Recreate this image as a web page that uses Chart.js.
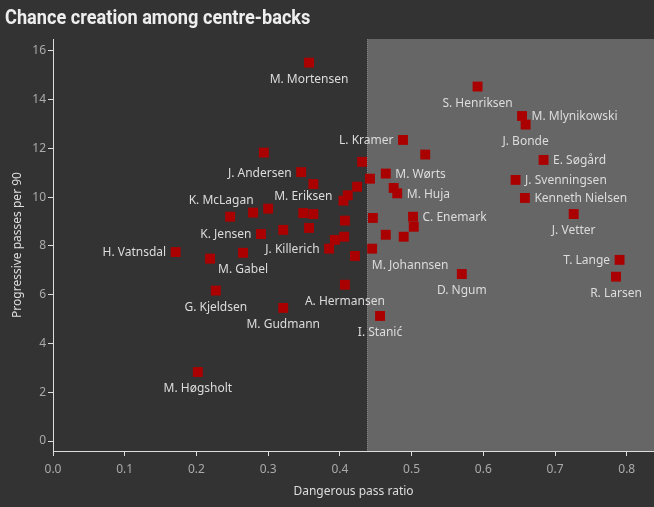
<!DOCTYPE html>
<html>
<head>
<meta charset="utf-8">
<script src="https://cdn.jsdelivr.net/npm/chart.js@4/dist/chart.umd.min.js"></script>
<style>
  html, body { margin: 0; padding: 0; background: #333333; }
  #wrap { position: relative; width: 654px; height: 507px; }
  #title {
    position: absolute; left: 5px; top: 7px;
    font: bold 21px Roboto, sans-serif; line-height: 21px;
    color: #eeeeee; white-space: nowrap;
    transform: scaleX(0.865); transform-origin: left top;
  }
  canvas { position: absolute; left: 0; top: 0; }
</style>
</head>
<body>
<div id="wrap">
  <canvas id="myChart" width="654" height="507"></canvas>
  <div id="title">Chance creation among centre-backs</div>
</div>
<script>
// players ('' = no label shown)
const names = ['M. Mortensen', '', 'J. Andersen', '', 'L. Kramer', '', 'M. Wørts', '', '', '', '',
  'K. McLagan', '', '', 'M. Eriksen', '', '', '', 'K. Jensen', '', '', 'H. Vatnsdal', '', 'M. Gabel',
  'J. Killerich', '', '', '', 'M. Johannsen', 'G. Kjeldsen', 'A. Hermansen', 'M. Gudmann', 'I. Stanić',
  'M. Høgsholt', '', 'M. Huja', 'C. Enemark', '', '', '', 'D. Ngum', 'J. Vetter', 'T. Lange', 'R. Larsen',
  'Kenneth Nielsen', 'S. Henriksen', 'M. Mlynikowski', 'J. Bonde', '', 'E. Søgård', 'J. Svenningsen'];
const dangerousRatio = [0.357, 0.294, 0.346, 0.431, 0.488, 0.363, 0.464, 0.442, 0.424, 0.411, 0.405,
  0.247, 0.279, 0.300, 0.349, 0.363, 0.407, 0.446, 0.290, 0.321, 0.357, 0.171, 0.219, 0.265,
  0.385, 0.393, 0.406, 0.421, 0.445, 0.227, 0.407, 0.321, 0.456,
  0.202, 0.475, 0.480, 0.502, 0.503, 0.464, 0.489, 0.570, 0.726, 0.790, 0.785,
  0.658, 0.592, 0.654, 0.659, 0.519, 0.684, 0.645];
const progPasses = [15.52, 11.83, 11.03, 11.45, 12.35, 10.54, 10.97, 10.76, 10.43, 10.08, 9.86,
  9.20, 9.37, 9.53, 9.35, 9.31, 9.04, 9.15, 8.49, 8.66, 8.74, 7.75, 7.48, 7.72,
  7.89, 8.25, 8.38, 7.59, 7.89, 6.17, 6.41, 5.46, 5.13,
  2.83, 10.38, 10.16, 9.20, 8.79, 8.46, 8.38, 6.85, 9.31, 7.43, 6.74,
  9.97, 14.54, 13.33, 12.98, 11.75, 11.53, 10.71];
// shaded zone starts here (x value)
const shadeFrom = 0.438;
const xTicks = [0, 0.1, 0.2, 0.3, 0.4, 0.5, 0.6, 0.7, 0.8];
const yTicks = [0, 2, 4, 6, 8, 10, 12, 14, 16];

// where each label goes: b = below, t = above, l = left, r = right
const labelPos = ['b', '', 'l', '', 'l', '', 'r', '', '', '', '',
  't', '', '', 't', '', '', '', 'l', '', '', 'l', '', 'b',
  'l', '', '', '', 'b', 'b', 'b', 'b', 'b',
  'b', '', 'r', 'r', '', '', '', 'b', 'b', 'l', 'b',
  'r', 'b', 'r', 'b', '', 'r', 'r'];
const labelNudge = { 'M. Johannsen': 38, 'K. McLagan': -9 };

const points = dangerousRatio.map((v, i) => ({ x: v, y: progPasses[i] }));

// grey box on the right side
const shadePlugin = {
  id: 'shade',
  beforeDraw(chart) {
    const { ctx, chartArea } = chart;
    const x0 = chart.scales.x.getPixelForValue(shadeFrom);
    ctx.save();
    ctx.fillStyle = '#666666';
    ctx.fillRect(x0, chartArea.top, chartArea.right - x0, chartArea.bottom - chartArea.top);
    ctx.strokeStyle = '#808080';
    ctx.setLineDash([1, 1]);
    ctx.beginPath();
    ctx.moveTo(Math.round(x0) + 0.5, chartArea.top);
    ctx.lineTo(Math.round(x0) + 0.5, chartArea.bottom);
    ctx.stroke();
    ctx.restore();
  }
};

// player names next to the squares
const labelPlugin = {
  id: 'names',
  afterDatasetsDraw(chart) {
    const ctx = chart.ctx;
    const meta = chart.getDatasetMeta(0);
    ctx.save();
    ctx.font = '12px "Noto Sans"';
    ctx.fillStyle = '#dcdcdc';
    ctx.textBaseline = 'middle';
    meta.data.forEach((pt, i) => {
      const name = names[i];
      if (!name) return;
      let x = pt.x, y = pt.y;
      const pos = labelPos[i];
      if (pos == 'b') { ctx.textAlign = 'center'; y += 17; }
      else if (pos == 't') { ctx.textAlign = 'center'; y -= 16; }
      else if (pos == 'l') { ctx.textAlign = 'right'; x -= 9.5; y += 1; }
      else { ctx.textAlign = 'left'; x += 9.5; y += 1; }
      x += labelNudge[name] || 0;
      ctx.fillText(name, x, y);
    });
    ctx.restore();
  }
};

const tickFont = { family: 'Noto Sans', size: 12 };
const titleFont = { family: 'Noto Sans', size: 12 };

const myChart = new Chart(document.getElementById('myChart'), {
  type: 'scatter',
  data: {
    datasets: [{
      data: points,
      pointStyle: 'rect',
      pointRadius: 7,
      pointBorderWidth: 0,
      backgroundColor: '#aa0000',
      borderColor: '#aa0000'
    }]
  },
  options: {
    responsive: false,
    animation: false,
    layout: { autoPadding: false, padding: { top: 39, right: 0, left: 0, bottom: 0 } },
    plugins: { legend: { display: false }, tooltip: { enabled: false } },
    scales: {
      x: {
        type: 'linear', min: 0, max: 0.838,
        afterBuildTicks: s => { s.ticks = xTicks.map(v => ({ value: v })); },
        afterFit: s => { s.height = 56; s.paddingLeft = 0; s.paddingRight = 0; },
        ticks: { color: '#aaaaaa', font: tickFont, padding: 6, callback: v => v.toFixed(1) },
        grid: { drawOnChartArea: false, drawTicks: true, tickLength: 5, color: '#dddddd' },
        border: { color: '#dddddd' },
        title: { display: true, text: 'Dangerous pass ratio', color: '#dddddd', font: titleFont, padding: 8 }
      },
      y: {
        type: 'linear', min: -0.41, max: 16.49,
        afterBuildTicks: s => { s.ticks = yTicks.map(v => ({ value: v })); },
        afterFit: s => { s.width = 53; s.paddingTop = 0; s.paddingBottom = 0; },
        ticks: { color: '#aaaaaa', font: tickFont, padding: 2 },
        grid: { drawOnChartArea: false, drawTicks: true, tickLength: 5, color: '#dddddd' },
        border: { color: '#dddddd' },
        title: { display: true, text: 'Progressive passes per 90', color: '#dddddd', font: titleFont, padding: 10 }
      }
    }
  },
  plugins: [shadePlugin, labelPlugin]
});
</script>
</body>
</html>
